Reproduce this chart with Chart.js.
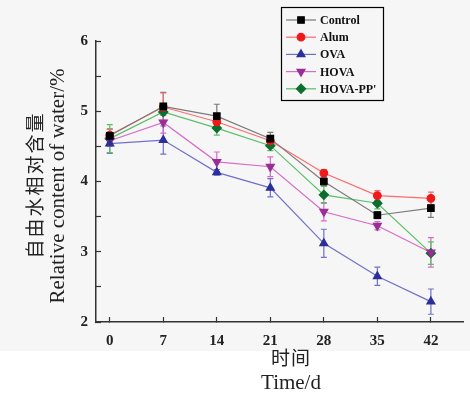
<!DOCTYPE html>
<html>
<head>
<meta charset="utf-8">
<script src="https://cdn.jsdelivr.net/npm/chart.js@4"></script>
<style>
html, body { margin: 0; padding: 0; background: #fff; }
canvas { display: block; }
</style>
</head>
<body>
<canvas id="myChart" width="470" height="400"></canvas>
<script>
// Werte
const days = [0, 7, 14, 21, 28, 35, 42];
const seriesNames = ['Control', 'Alum', 'OVA', 'HOVA', "HOVA-PP'"];
const control = [4.65, 5.07, 4.93, 4.61, 4.00, 3.52, 3.62];
const alum = [4.66, 5.06, 4.85, 4.58, 4.12, 3.80, 3.76];
const ova = [4.54, 4.59, 4.13, 3.91, 3.12, 2.65, 2.29];
const hova = [4.58, 4.84, 4.28, 4.21, 3.57, 3.37, 2.99];
const hovaPP = [4.61, 4.99, 4.76, 4.51, 3.81, 3.69, 2.98];
const controlErr = [0.10, 0.20, 0.17, 0.09, 0.06, 0.05, 0.13];
const alumErr = [0.08, 0.20, 0.05, 0.05, 0.05, 0.07, 0.09];
const ovaErr = [0.14, 0.20, 0.04, 0.13, 0.20, 0.13, 0.18];
const hovaErr = [0.08, 0.15, 0.14, 0.14, 0.13, 0.06, 0.21];
const hovaPPErr = [0.20, 0.05, 0.10, 0.07, 0.12, 0.08, 0.16];
const yTitle = ['自由水相对含量', 'Relative content of water/%'];
const xTitle = ['时间', 'Time/d'];

const serif = '"Liberation Serif", "Noto Sans CJK SC", serif';

function series(name, vals, errs, line, mark, style, rot) {
  return {
    label: name,
    data: days.map((d, i) => ({ x: d, y: vals[i] })),
    errors: errs,
    borderColor: line,
    borderWidth: 1.2,
    pointBackgroundColor: mark,
    pointBorderColor: mark,
    pointStyle: style,
    pointRotation: rot || 0,
    pointRadius: style === 'circle' ? 3.8 : 4.6,
    tension: 0
  };
}

// Hintergrund (oben leicht grau)
const bgPlugin = {
  id: 'bg',
  beforeDraw(chart) {
    const c = chart.ctx;
    c.save();
    c.fillStyle = '#ffffff';
    c.fillRect(0, 0, chart.width, chart.height);
    c.fillStyle = '#f6f6f6';
    c.fillRect(0, 0, chart.width, 351);
    c.restore();
  }
};

// Fehlerbalken
const errorBars = {
  id: 'errorBars',
  beforeDatasetsDraw(chart) {
    const { ctx, scales: { x, y } } = chart;
    chart.data.datasets.forEach(ds => {
      ctx.save();
      ctx.strokeStyle = ds.borderColor;
      ctx.lineWidth = 1.2;
      ds.data.forEach((p, j) => {
        const px = x.getPixelForValue(p.x);
        const t = y.getPixelForValue(p.y + ds.errors[j]);
        const b = y.getPixelForValue(p.y - ds.errors[j]);
        ctx.beginPath();
        ctx.moveTo(px, t); ctx.lineTo(px, b);
        ctx.moveTo(px - 3, t); ctx.lineTo(px + 3, t);
        ctx.moveTo(px - 3, b); ctx.lineTo(px + 3, b);
        ctx.stroke();
      });
      ctx.restore();
    });
  }
};

// Legende im Kasten oben rechts
const boxLegend = {
  id: 'boxLegend',
  afterDraw(chart) {
    const c = chart.ctx;
    c.save();
    c.strokeStyle = '#000';
    c.lineWidth = 1.2;
    c.strokeRect(281.5, 7.5, 102, 93);
    c.font = 'bold 12px ' + serif;
    c.textBaseline = 'middle';
    chart.data.datasets.forEach((ds, i) => {
      const yy = 20 + i * 17.2;
      c.strokeStyle = ds.borderColor;
      c.lineWidth = 1.2;
      c.beginPath(); c.moveTo(286, yy); c.lineTo(316, yy); c.stroke();
      c.fillStyle = ds.pointBackgroundColor;
      c.strokeStyle = ds.pointBorderColor;
      Chart.helpers.drawPoint(c, { pointStyle: ds.pointStyle, rotation: ds.pointRotation, radius: ds.pointRadius, borderWidth: 1 }, 301, yy);
      c.fillStyle = '#111';
      c.fillText(ds.label, 320, yy + 1);
    });
    c.restore();
  }
};

// Achsentitel
const axisTitles = {
  id: 'axisTitles',
  afterDraw(chart) {
    const c = chart.ctx;
    c.save();
    c.fillStyle = '#222';
    c.textAlign = 'center';
    c.textBaseline = 'middle';
    c.translate(37, 186);
    c.rotate(-Math.PI / 2);
    c.font = '19px ' + serif;
    c.letterSpacing = '2px';
    c.fillText(yTitle[0], 1, 0);
    c.letterSpacing = '0px';
    c.font = '21px ' + serif;
    c.fillText(yTitle[1], 0, 21);
    c.restore();
    c.save();
    c.fillStyle = '#222';
    c.textAlign = 'center';
    c.textBaseline = 'middle';
    c.font = '19px ' + serif;
    c.letterSpacing = '1px';
    c.fillText(xTitle[0], 291, 360);
    c.letterSpacing = '0px';
    c.font = '21px ' + serif;
    c.fillText(xTitle[1], 291, 383);
    c.restore();
  }
};

const ctx = document.getElementById('myChart').getContext('2d');
const myChart = new Chart(ctx, {
  type: 'line',
  data: {
    datasets: [
      series(seriesNames[0], control, controlErr, '#7a7a7a', '#000000', 'rect'),
      series(seriesNames[1], alum, alumErr, '#ff6a6a', '#f01818', 'circle'),
      series(seriesNames[2], ova, ovaErr, '#7070cc', '#2b2f9a', 'triangle'),
      series(seriesNames[3], hova, hovaErr, '#d86ac8', '#9b2d96', 'triangle', 180),
      series(seriesNames[4], hovaPP, hovaPPErr, '#5cbf66', '#0b6e2e', 'rectRot')
    ]
  },
  options: {
    responsive: false,
    animation: false,
    layout: { padding: { top: 41, right: 7, left: 0, bottom: 0 } },
    plugins: {
      legend: { display: false },
      tooltip: { enabled: false }
    },
    scales: {
      x: {
        type: 'linear',
        min: -1.8,
        max: 46.2,
        afterBuildTicks: s => { s.ticks = days.map(v => ({ value: v })); },
        afterFit: s => { s.height = 78; },
        ticks: {
          color: '#222',
          padding: 15,
          font: { family: serif, size: 15, weight: 'bold' }
        },
        grid: { drawOnChartArea: false, tickLength: -5, tickColor: '#333', tickWidth: 1.2 },
        border: { color: '#333', width: 1.5 }
      },
      y: {
        min: 2,
        max: 6,
        afterFit: s => { s.width = 96; },
        ticks: {
          stepSize: 0.5,
          autoSkip: false,
          color: '#222',
          padding: 13,
          font: { family: serif, size: 15, weight: 'bold' },
          callback: v => Number.isInteger(v) ? v : ''
        },
        grid: { drawOnChartArea: false, tickLength: -5, tickColor: '#333', tickWidth: 1.2 },
        border: { color: '#333', width: 1.5 }
      }
    }
  },
  plugins: [bgPlugin, errorBars, boxLegend, axisTitles]
});
</script>
</body>
</html>
